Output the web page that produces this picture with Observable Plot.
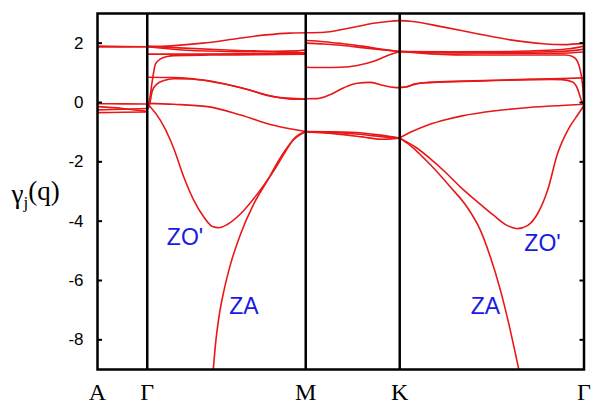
<!DOCTYPE html>
<html>
<head>
<meta charset="utf-8">
<script src="https://cdn.jsdelivr.net/npm/d3@7"></script>
<script src="https://cdn.jsdelivr.net/npm/@observablehq/plot@0.6"></script>
<style>
  body { margin: 0; background: #fff; }
</style>
</head>
<body>
<div id="chart"></div>
<script>
// High-symmetry points along the path and their path coordinate (|ΓK| = 1)
const kpointLabels = ["A", "Γ", "M", "K", "Γ"];
const kpointPos = [0, 0.27, 1.13, 1.64, 2.64];
const yTicks = [-8, -6, -4, -2, 0, 2];
const yLabel = "γj(q)";

// Mode Grüneisen parameters, one array per path segment.
// Each branch is a list of [t, γ] with t the fraction along the segment.
const branchesAG = [
  [[0, 1.90], [0.5, 1.89], [1, 1.88]],
  [[0, 1.87], [0.5, 1.875], [1, 1.88]],
  [[0, -0.04], [0.5, -0.045], [1, -0.05]],
  [[0, -0.14], [0.5, -0.20], [1, -0.30]],
  [[0, -0.25], [0.5, -0.23], [1, -0.20]],
  [[0, -0.34], [0.5, -0.33], [1, -0.32]]
];

const branchesGM = [
  [[0, 1.88], [0.15, 1.91], [0.35, 2.0], [0.55, 2.14], [0.75, 2.28], [0.9, 2.34], [1, 2.35]],
  [[0, 1.90], [0.2, 1.84], [0.5, 1.77], [0.8, 1.73], [0.95, 1.74], [1, 1.78]],
  [[0, 1.88], [0.2, 1.78], [0.5, 1.72], [0.8, 1.70], [0.95, 1.68], [1, 1.64]],
  [[0, 1.63], [0.3, 1.63], [0.6, 1.64], [0.9, 1.66], [1, 1.68]],
  [[0, -0.15], [0.01, -0.04], [0.032, 0.74], [0.052, 1.30], [0.084, 1.47], [0.126, 1.55], [0.17, 1.58], [0.4, 1.60], [0.7, 1.61], [1, 1.63]],
  [[0, 0.85], [0.17, 0.84], [0.27, 0.81], [0.38, 0.74], [0.59, 0.50], [0.8, 0.20], [0.93, 0.11], [1, 0.12]],
  [[0, -0.2], [0.01, -0.16], [0.032, 0.40], [0.063, 0.63], [0.105, 0.74], [0.168, 0.80], [0.27, 0.79], [0.4, 0.71], [0.6, 0.49], [0.8, 0.19], [1, 0.12]],
  [[0, -0.03], [0.166, -0.06], [0.381, -0.14], [0.589, -0.42], [0.798, -0.77], [1, -0.98]],
  // ZO'
  [[0, -0.05], [0.021, -0.16], [0.084, -0.61], [0.147, -1.28], [0.172, -1.62], [0.231, -2.52], [0.294, -3.30], [0.358, -3.87], [0.411, -4.18], [0.452, -4.22], [0.505, -4.11], [0.589, -3.75], [0.695, -3.08], [0.80, -2.29], [0.863, -1.73], [0.926, -1.22], [1, -0.98]],
  // ZA
  [[0.416, -9.05], [0.431, -8.13], [0.452, -7.24], [0.484, -6.34], [0.526, -5.44], [0.589, -4.43], [0.673, -3.41], [0.758, -2.63], [0.842, -1.84], [0.924, -1.25], [1, -0.98]]
];

const branchesMK = [
  [[0, 2.35], [0.2, 2.37], [0.37, 2.45], [0.55, 2.56], [0.72, 2.67], [0.9, 2.74], [1, 2.76]],
  [[0, 2.09], [0.2, 2.05], [0.4, 1.98], [0.6, 1.90], [0.8, 1.80], [1, 1.72]],
  [[0, 2.0], [0.2, 1.97], [0.4, 1.92], [0.6, 1.85], [0.8, 1.78], [1, 1.72]],
  [[0, 1.19], [0.194, 1.18], [0.371, 1.19], [0.548, 1.25], [0.724, 1.39], [0.90, 1.62], [1, 1.72]],
  [[0, 0.125], [0.124, 0.13], [0.265, 0.27], [0.406, 0.50], [0.548, 0.65], [0.689, 0.68], [0.833, 0.57], [0.94, 0.51], [1, 0.50]],
  [[0, -0.98], [0.3, -0.99], [0.6, -1.03], [0.8, -1.10], [1, -1.20]],
  [[0, -0.98], [0.3, -1.05], [0.6, -1.16], [0.8, -1.24], [1, -1.20]],
  [[0, -1.0], [0.3, -1.02], [0.6, -1.08], [0.8, -1.15], [1, -1.20]]
];

const branchesKG = [
  [[0, 2.76], [0.058, 2.74], [0.239, 2.54], [0.42, 2.32], [0.60, 2.11], [0.78, 1.98], [0.89, 1.95], [1, 2.0]],
  [[0, 1.72], [0.3, 1.71], [0.6, 1.72], [0.8, 1.76], [0.92, 1.81], [1, 1.90]],
  [[0, 1.72], [0.3, 1.69], [0.6, 1.69], [0.8, 1.71], [0.92, 1.74], [1, 1.80]],
  [[0, 1.72], [0.3, 1.67], [0.6, 1.66], [0.8, 1.66], [0.92, 1.67], [1, 1.70]],
  [[0, 1.72], [0.167, 1.64], [0.438, 1.60], [0.764, 1.60], [0.9, 1.60], [0.938, 1.55], [0.965, 1.38], [0.981, 1.05], [0.992, 0.6], [1, -0.02]],
  [[0, 0.50], [0.031, 0.52], [0.085, 0.63], [0.157, 0.68], [0.339, 0.72], [0.52, 0.75], [0.70, 0.78], [0.88, 0.81], [1, 0.83]],
  [[0, 0.50], [0.031, 0.52], [0.085, 0.62], [0.157, 0.67], [0.339, 0.71], [0.52, 0.74], [0.70, 0.77], [0.82, 0.78], [0.88, 0.77], [0.938, 0.69], [0.965, 0.46], [0.983, 0.12], [1, -0.12]],
  [[0, -1.19], [0.067, -0.98], [0.157, -0.75], [0.248, -0.58], [0.339, -0.45], [0.52, -0.28], [0.70, -0.17], [0.88, -0.10], [1, -0.06]],
  // ZO'
  [[0, -1.2], [0.085, -1.5], [0.167, -1.9], [0.248, -2.35], [0.33, -2.85], [0.422, -3.35], [0.509, -3.8], [0.585, -4.15], [0.639, -4.25], [0.693, -4.15], [0.748, -3.75], [0.802, -2.97], [0.856, -1.73], [0.916, -0.89], [0.97, -0.38], [1, -0.1]],
  // ZA
  [[0, -1.2], [0.058, -1.45], [0.167, -2.1], [0.275, -2.85], [0.366, -3.53], [0.438, -4.31], [0.492, -5.21], [0.547, -6.34], [0.592, -7.46], [0.628, -8.47], [0.648, -9.05]]
];

// Mode labels
const modeNames = ["ZO'", "ZA", "ZO'", "ZA"];
const modeQ = [0.475, 0.795, 2.415, 2.105];
const modeG = [-4.55, -6.89, -4.77, -6.89];

const RED = "#e81818";
const BLUE = "#1a1ae0";
const SANS = "Liberation Sans, Arial, Helvetica, sans-serif";
const SERIF = "Liberation Serif, Times New Roman, serif";

// Flatten segments into rows on the common path coordinate
const segments = [branchesAG, branchesGM, branchesMK, branchesKG];
const rows = segments.flatMap((branches, s) =>
  branches.flatMap((pts, b) =>
    pts.map(([t, g]) => ({
      q: kpointPos[s] + t * (kpointPos[s + 1] - kpointPos[s]),
      g,
      id: s + "-" + b
    }))
  )
);

const chart = Plot.plot({
  width: 592,
  height: 403,
  marginLeft: 97,
  marginRight: 8.5,
  marginTop: 13,
  marginBottom: 34,
  x: {domain: [0, 2.64]},
  y: {domain: [-9, 3]},
  style: {fontFamily: SANS, fontSize: "17px", background: "white", color: "black", overflow: "visible"},
  marks: [
    Plot.line(rows, {x: "q", y: "g", z: "id", stroke: RED, strokeWidth: 1.6, curve: "monotone-x", clip: true}),
    Plot.text(modeNames, {
      x: (d, i) => modeQ[i], y: (d, i) => modeG[i], text: d => d,
      fill: BLUE, fontSize: 23, fontFamily: SANS
    }),
    Plot.ruleX(kpointPos.slice(1, 4), {stroke: "black", strokeWidth: 2.5}),
    Plot.frame({stroke: "black", strokeWidth: 2.5}),
    Plot.axisY(yTicks, {anchor: "left", tickSize: 5, dx: 5, tickFormat: () => "", strokeWidth: 2, label: null}),
    Plot.axisY(yTicks, {anchor: "right", tickSize: 5, dx: -5, tickFormat: () => "", strokeWidth: 2, label: null}),
    Plot.axisY(yTicks, {anchor: "left", tickSize: 0, tickPadding: 14, tickFormat: d => String(d), fontSize: 17, label: null}),
    Plot.axisX(kpointPos, {
      anchor: "bottom", tickSize: 0, tickPadding: 13,
      tickFormat: d => kpointLabels[kpointPos.indexOf(d)],
      fontSize: 24, fontFamily: SERIF, label: null
    }),
    Plot.text([yLabel], {frameAnchor: "left", dx: -86, dy: 3, textAnchor: "start", fontSize: 27, fontFamily: SERIF})
  ]
});

// Set the subscript in the y label
d3.select(chart).selectAll("text")
  .filter(function () { return this.textContent === yLabel; })
  .each(function () {
    const t = d3.select(this);
    t.text(null);
    t.append("tspan").text("γ");
    t.append("tspan").attr("dy", "0.3em").attr("font-size", "17").text("j");
    t.append("tspan").attr("dy", "-0.3em").text("(q)");
  });

document.getElementById("chart").appendChild(chart);
</script>
</body>
</html>
